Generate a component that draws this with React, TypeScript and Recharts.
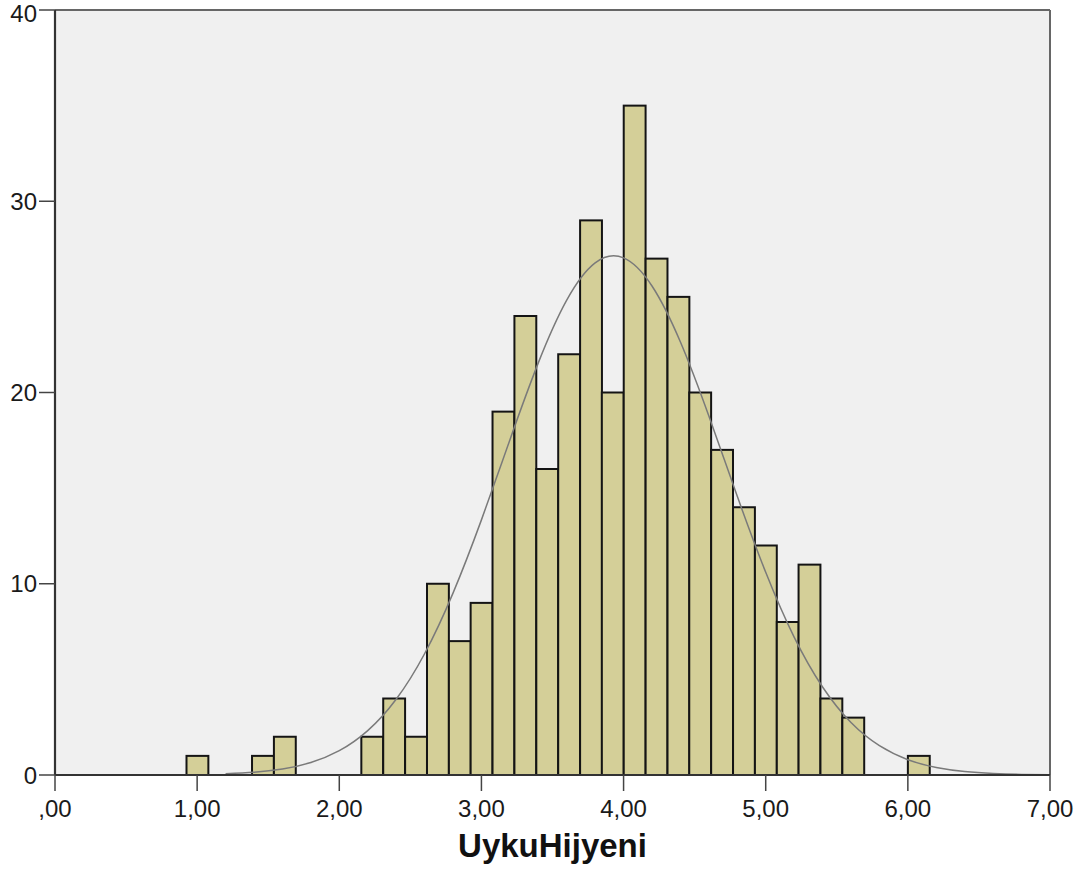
import React from 'react'
import {
  ComposedChart,
  Bar,
  Line,
  XAxis,
  YAxis,
  CartesianGrid,
  ReferenceLine,
} from 'recharts'

// histogram bins (centres) and their frequencies
const binCenters = [
  1.002, 1.463, 1.617, 2.232, 2.386, 2.54, 2.694, 2.848, 3.001, 3.155, 3.309,
  3.463, 3.617, 3.771, 3.924, 4.078, 4.232, 4.386, 4.539, 4.693, 4.847, 5.001,
  5.155, 5.308, 5.462, 5.616, 6.077,
]
const binCounts = [
  1, 1, 2, 2, 4, 2, 10, 7, 9, 19, 24, 16, 22, 29, 20, 35, 27, 25, 20, 17, 14,
  12, 8, 11, 4, 3, 1,
]
const binWidth = 0.1538

// normal curve, points
const curveX = [
  1.2, 1.4, 1.6, 1.8, 2.0, 2.2, 2.4, 2.6, 2.8, 3.0, 3.2, 3.4, 3.6, 3.8, 4.0,
  4.2, 4.4, 4.6, 4.8, 5.0, 5.2, 5.4, 5.6, 5.8, 6.0, 6.2, 6.4, 6.6, 6.8, 7.0,
]
const curveY = [
  0.06, 0.14, 0.31, 0.65, 1.27, 2.32, 3.96, 6.34, 9.51, 13.34, 17.52, 21.55,
  24.83, 26.78, 27.04, 25.57, 22.64, 18.77, 14.57, 10.6, 7.21, 4.6, 2.74, 1.53,
  0.8, 0.39, 0.18, 0.08, 0.03, 0.01,
]

const xTicks = [0, 1, 2, 3, 4, 5, 6, 7]
const yTicks = [0, 10, 20, 30, 40]
const xLabel = 'UykuHijyeni'

const bins = binCenters.map((x, i) => ({ x, count: binCounts[i] }))
const curve = curveX.map((x, i) => ({ x, y: curveY[i] }))

const W = 1082
const H = 873
const margin = { top: 10, right: 32, bottom: 0, left: 0 }
const Y_AXIS_W = 55
const X_MAX = 7
const plotW = W - margin.left - margin.right - Y_AXIS_W
const binPx = (plotW * binWidth) / X_MAX

const FONT = '"Liberation Sans", Arial, sans-serif'
const tickStyle = { fill: '#1a1a1a', fontSize: 24, fontFamily: FONT }

const fmtX = (v: number) => (v === 0 ? ',00' : `${v},00`)

// recharts packs bars on a numeric axis by the smallest gap between points,
// so widen each one around its centre to the full bin width
const BinRect = (props: any) => {
  const { x, y, width, height } = props
  if (height == null || height <= 0) return null
  const cx = x + width / 2
  return (
    <rect
      x={cx - binPx / 2}
      y={y}
      width={binPx}
      height={height}
      fill="#d4cf98"
      stroke="#141414"
      strokeWidth={2}
    />
  )
}

export default function App() {
  return (
    <div
      style={{
        position: 'absolute',
        left: 0,
        top: 0,
        width: W,
        height: H,
        background: '#fff',
      }}
    >
      <ComposedChart width={W} height={H} data={bins} margin={margin}>
        <CartesianGrid
          fill="#f0f0f0"
          horizontal={false}
          vertical={false}
          stroke="none"
        />
        <XAxis
          dataKey="x"
          type="number"
          domain={[0, X_MAX]}
          ticks={xTicks}
          tickFormatter={fmtX}
          allowDataOverflow
          height={98}
          tickSize={16}
          tickMargin={9}
          tick={tickStyle}
          axisLine={{ stroke: '#333', strokeWidth: 2.2 }}
          tickLine={{ stroke: '#444', strokeWidth: 1.5 }}
          label={{
            value: xLabel,
            position: 'insideBottom',
            offset: 16,
            style: {
              fill: '#111',
              fontSize: 33,
              fontWeight: 'bold',
              fontFamily: FONT,
            },
          }}
        />
        <YAxis
          type="number"
          domain={[0, 40]}
          ticks={yTicks}
          allowDataOverflow
          width={Y_AXIS_W}
          tickSize={16}
          tickMargin={2}
          tick={tickStyle}
          axisLine={{ stroke: '#333', strokeWidth: 2.2 }}
          tickLine={{ stroke: '#444', strokeWidth: 1.5 }}
        />
        <ReferenceLine y={40} stroke="#666" strokeWidth={2} />
        <ReferenceLine x={X_MAX} stroke="#666" strokeWidth={2} />
        <Bar
          dataKey="count"
          shape={BinRect}
          isAnimationActive={false}
        />
        <Line
          data={curve}
          dataKey="y"
          type="natural"
          stroke="#7a7a7a"
          strokeWidth={1.5}
          dot={false}
          activeDot={false}
          isAnimationActive={false}
        />
      </ComposedChart>
    </div>
  )
}
